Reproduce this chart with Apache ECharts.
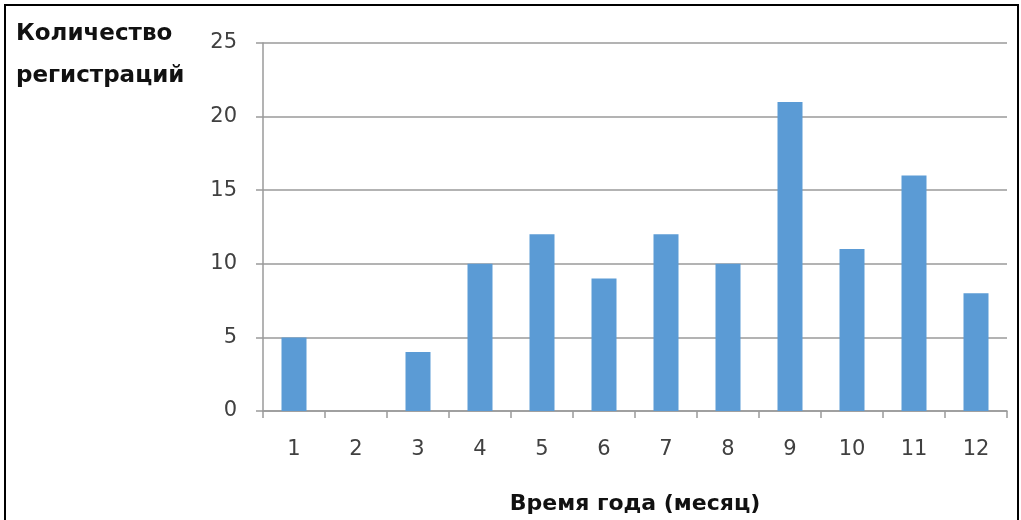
<!DOCTYPE html>
<html><head><meta charset="utf-8">
<script src="https://cdn.jsdelivr.net/npm/echarts@6/dist/echarts.min.js"></script>
<style>html,body{margin:0;padding:0;background:#fff}#c{width:1021px;height:520px}</style>
</head><body><div id="c"></div>
<script>
const months = ['1','2','3','4','5','6','7','8','9','10','11','12'];
const registrations = [5,0,4,10,12,9,12,10,21,11,16,8];
const yTitle = 'Количество\nрегистраций';
const xTitle = 'Время года (месяц)';
const FONT = '"DejaVu Sans", "Open Sans", sans-serif';
const chart = echarts.init(document.getElementById('c'));
chart.setOption({
  animation: false,
  backgroundColor: '#fff',
  title: {text: yTitle, left: 11, top: 8, textStyle: {fontFamily: FONT, fontWeight: 'bold', fontSize: 23, color: '#111', lineHeight: 42}},
  graphic: [{type: 'polyline', shape: {points: [[5, 530], [5, 5], [1018, 5], [1018, 530]]}, style: {stroke: '#000', lineWidth: 2, fill: null}}],
  grid: {left: 263, right: 14, top: 43, bottom: 108},
  xAxis: {
    type: 'category', data: months,
    name: xTitle, nameLocation: 'middle', nameGap: 82,
    nameTextStyle: {fontFamily: FONT, fontWeight: 'bold', fontSize: 22, color: '#111'},
    axisLine: {lineStyle: {color: '#9a9a9a', width: 1.5}},
    axisTick: {show: true, length: 7, lineStyle: {color: '#9a9a9a', width: 1.5}},
    axisLabel: {fontFamily: FONT, fontSize: 21, color: '#404040', margin: 28}
  },
  yAxis: {
    type: 'value', min: 0, max: 25, interval: 5,
    axisLine: {show: true, lineStyle: {color: '#9a9a9a', width: 1.5}},
    axisTick: {show: true, length: 7, lineStyle: {color: '#9a9a9a', width: 1.5}},
    axisLabel: {fontFamily: FONT, fontSize: 21, color: '#404040', margin: 26},
    splitLine: {lineStyle: {color: '#9a9a9a', width: 1.5}}
  },
  series: [{type: 'bar', data: registrations, barWidth: 25, itemStyle: {color: '#5B9BD5'}}]
});
</script></body></html>
